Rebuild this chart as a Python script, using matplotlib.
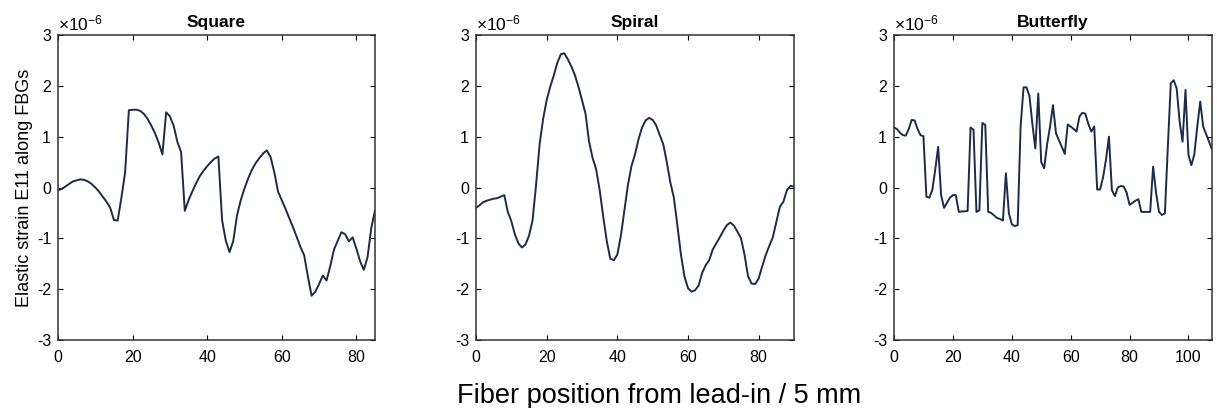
import numpy as np
import matplotlib
matplotlib.use("Agg")
import matplotlib.pyplot as plt
from matplotlib.ticker import FuncFormatter, MultipleLocator

plt.rcParams['font.family'] = ['Liberation Sans', 'DejaVu Sans']
plt.rcParams['axes.unicode_minus'] = False
plt.rcParams['mathtext.fontset'] = 'custom'
plt.rcParams['mathtext.rm'] = 'Liberation Sans'

# Elastic strain E11 (units of 1e-6) sampled at each fiber position (5 mm steps)
square_strain = [
    -0.05, -0.03, 0.02, 0.07, 0.12, 0.14, 0.16, 0.15, 0.12, 0.07,
    0.00, -0.08, -0.18, -0.28, -0.40, -0.64, -0.65, -0.20, 0.30, 1.52,
    1.53, 1.53, 1.51, 1.45, 1.35, 1.22, 1.07, 0.88, 0.65, 1.48,
    1.40, 1.22, 0.90, 0.70, -0.46, -0.25, -0.08, 0.08, 0.22, 0.33,
    0.42, 0.50, 0.57, 0.61, -0.64, -1.05, -1.27, -1.05, -0.55, -0.25,
    -0.02, 0.18, 0.35, 0.48, 0.58, 0.67, 0.73, 0.60, 0.30, -0.08,
    -0.25, -0.42, -0.60, -0.78, -0.97, -1.17, -1.33, -1.75, -2.13, -2.05,
    -1.90, -1.73, -1.83, -1.55, -1.22, -1.05, -0.88, -0.92, -1.06, -0.98,
    -1.20, -1.45, -1.62, -1.37, -0.80, -0.45,
]

spiral_strain = [
    -0.40, -0.35, -0.29, -0.26, -0.24, -0.22, -0.21, -0.18, -0.15, -0.48,
    -0.66, -0.92, -1.10, -1.18, -1.12, -0.95, -0.65, 0.05, 0.85, 1.35,
    1.72, 1.98, 2.20, 2.45, 2.62, 2.64, 2.52, 2.38, 2.21, 1.98,
    1.72, 1.45, 0.90, 0.58, 0.36, -0.05, -0.57, -1.05, -1.40, -1.43,
    -1.32, -0.95, -0.45, 0.05, 0.42, 0.65, 0.95, 1.18, 1.32, 1.37,
    1.33, 1.22, 1.03, 0.85, 0.50, 0.10, -0.20, -0.75, -1.32, -1.75,
    -1.98, -2.05, -2.02, -1.93, -1.68, -1.53, -1.43, -1.22, -1.10, -0.98,
    -0.85, -0.74, -0.69, -0.75, -0.87, -1.00, -1.32, -1.75, -1.89, -1.90,
    -1.79, -1.55, -1.33, -1.15, -0.98, -0.68, -0.38, -0.28, -0.05, 0.03,
    0.02,
]

butterfly_strain = [
    1.18, 1.15, 1.08, 1.03, 1.02, 1.15, 1.33, 1.32, 1.15, 1.03,
    1.01, -0.18, -0.20, -0.05, 0.35, 0.80, -0.15, -0.40, -0.30, -0.20,
    -0.15, -0.15, -0.48, -0.47, -0.47, -0.46, 1.18, 1.14, -0.48, -0.45,
    1.27, 1.23, -0.48, -0.50, -0.55, -0.60, -0.62, -0.65, 0.28, -0.50,
    -0.72, -0.76, -0.74, 1.20, 1.97, 1.97, 1.80, 1.25, 0.77, 1.85,
    0.50, 0.38, 0.85, 1.20, 1.62, 1.07, 0.93, 0.80, 0.66, 1.24,
    1.20, 1.15, 1.10, 1.40, 1.47, 1.45, 1.25, 1.10, 1.20, -0.04,
    -0.04, 0.20, 0.55, 1.00, -0.05, -0.17, 0.00, 0.03, 0.02, -0.10,
    -0.34, -0.30, -0.26, -0.23, -0.48, -0.48, -0.48, -0.48, 0.41, -0.10,
    -0.48, -0.54, -0.51, 0.80, 2.05, 2.11, 1.95, 1.30, 0.90, 1.92,
    0.64, 0.44, 0.65, 1.20, 1.69, 1.20, 1.05, 0.90, 0.75,
]

titles = ["Square", "Spiral", "Butterfly"]
x_limits = [85, 90, 108]
x_tick_step = [20, 20, 20]
y_ticks = [-3, -2, -1, 0, 1, 2, 3]
y_scale = 1e-6
y_label = "Elastic strain E11 along FBGs"
x_label = "Fiber position from lead-in / 5 mm"

W, H = 1217, 408
fig = plt.figure(figsize=(W / 100, H / 100), dpi=100)

# axes boxes in pixels: (left, right, top, bottom)
boxes = [(58, 375, 35, 340), (476, 794, 35, 340), (894, 1212, 35, 340)]
series = [square_strain, spiral_strain, butterfly_strain]
line_color = "#1c2b4a"
frame_color = "#333333"

tick_fmt = FuncFormatter(lambda v, pos: f"{v / y_scale:.0f}")

for (l, r, t, b), vals, title, xmax, step in zip(boxes, series, titles, x_limits, x_tick_step):
    ax = fig.add_axes([l / W, 1 - b / H, (r - l) / W, (b - t) / H])
    y = np.asarray(vals) * y_scale
    x = np.arange(len(vals))
    ax.plot(x, y, color=line_color, lw=1.4, solid_joinstyle="round")
    ax.set_xlim(0, xmax)
    ax.set_ylim(y_ticks[0] * y_scale, y_ticks[-1] * y_scale)
    ax.xaxis.set_major_locator(MultipleLocator(step))
    ax.set_yticks(np.asarray(y_ticks) * y_scale)
    ax.yaxis.set_major_formatter(tick_fmt)
    ax.tick_params(direction="in", length=3.5, width=0.8, top=True, right=True,
                   labelsize=11.5, colors="black")
    ax.tick_params(axis="x", pad=7)
    ax.tick_params(axis="y", pad=5)
    for sp in ax.spines.values():
        sp.set_color(frame_color)
        sp.set_linewidth(1.1)
    ax.set_title(title, fontsize=12.5, fontweight="bold", pad=6)
    ax.text(0.0, 1.006, r"$\times\mathdefault{10^{-6}}$", transform=ax.transAxes,
            ha="left", va="bottom", fontsize=12.5)
    if title == "Square":
        ax.set_ylabel(y_label, fontsize=13, labelpad=3)

fig.text(659 / W, 1 - 403 / H, x_label, ha="center", va="baseline", fontsize=19.5)

fig.savefig("out.png", dpi=100)
